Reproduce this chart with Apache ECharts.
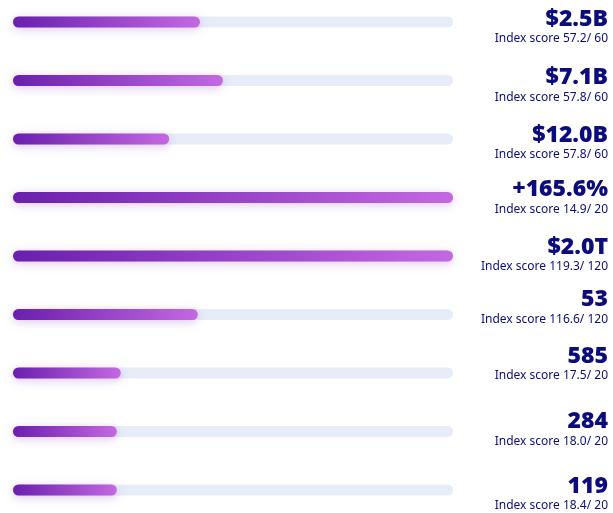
<!DOCTYPE html>
<html>
<head>
<meta charset="utf-8">
<script src="https://cdn.jsdelivr.net/npm/echarts@6/dist/echarts.min.js"></script>
<style>
  html, body { margin: 0; padding: 0; background: #ffffff; }
  #chart { width: 613px; height: 513px; }
</style>
</head>
<body>
<div id="chart"></div>
<script>
// Row metrics, top to bottom
const metrics = ['m1', 'm2', 'm3', 'm4', 'm5', 'm6', 'm7', 'm8', 'm9'];
// Bar fill, percent of the full track
const fillPercent = [42.5, 47.7, 35.5, 100, 100, 42, 24.5, 23.6, 23.6];
// Headline values shown on the right
const headlines = ['$2.5B', '$7.1B', '$12.0B', '+165.6%', '$2.0T', '53', '585', '284', '119'];
// Index scores and their maximum
const scores = ['57.2', '57.8', '57.8', '14.9', '119.3', '116.6', '17.5', '18.0', '18.4'];
const scoreMax = ['60', '60', '60', '20', '120', '120', '20', '20', '20'];

// Vertical nudge of each right-hand label block (layout only)
const labelShift = [6, 6, 5, 1, 0, -6, -8, -1, 5];

const navy = '#0c0c7c';
const chart = echarts.init(document.getElementById('chart'));

const trackLabel = {
  show: true,
  position: ['100%', '50%'],
  align: 'right',
  verticalAlign: 'middle',
  formatter: (p) => '{v|' + headlines[p.dataIndex] + '}\n{s|Index score ' +
    scores[p.dataIndex] + '/ ' + scoreMax[p.dataIndex] + '}',
  rich: {
    v: { fontFamily: 'Noto Sans', fontWeight: 900, fontSize: 23, color: navy, align: 'right', lineHeight: 22 },
    s: { fontFamily: 'Noto Sans', fontSize: 12, color: navy, align: 'right', lineHeight: 18 }
  }
};

chart.setOption({
  animation: false,
  grid: { left: 13, right: 160, top: 22, bottom: 23 },
  xAxis: { type: 'value', min: 0, max: 100, show: false },
  yAxis: {
    type: 'category',
    data: metrics,
    inverse: true,
    boundaryGap: false,
    show: false
  },
  series: [
    {
      name: 'track',
      type: 'bar',
      data: metrics.map((m, i) => ({
        value: 100,
        label: { offset: [155, labelShift[i]] }
      })),
      barWidth: 11,
      silent: true,
      itemStyle: { color: '#e6ecf8', borderRadius: 6 },
      label: trackLabel,
      z: 1
    },
    {
      name: 'fill',
      type: 'bar',
      data: fillPercent,
      barWidth: 11,
      barGap: '-100%',
      itemStyle: {
        borderRadius: 6,
        color: new echarts.graphic.LinearGradient(0, 0, 1, 0, [
          { offset: 0, color: '#6a1fae' },
          { offset: 1, color: '#c368e1' }
        ]),
        shadowBlur: 10,
        shadowColor: 'rgba(150, 70, 200, 0.30)',
        shadowOffsetY: 2
      },
      z: 2
    }
  ]
});
</script>
</body>
</html>
